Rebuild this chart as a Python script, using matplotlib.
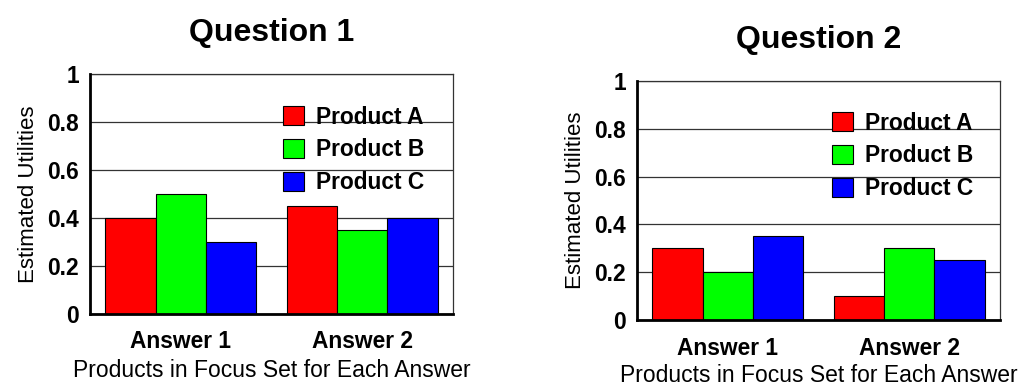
import matplotlib
matplotlib.use('Agg')
import matplotlib.pyplot as plt
import numpy as np

plt.rcParams['font.family'] = ['Liberation Sans', 'DejaVu Sans']

answers = ['Answer 1', 'Answer 2']
products = ['Product A', 'Product B', 'Product C']
colors = ['#ff0000', '#00ff00', '#0000ff']

q1_values = [[0.40, 0.45],   # Product A
             [0.50, 0.35],   # Product B
             [0.30, 0.40]]   # Product C
q2_values = [[0.30, 0.10],
             [0.20, 0.30],
             [0.35, 0.25]]

titles = ['Question 1', 'Question 2']
y_ticks = [0, 0.2, 0.4, 0.6, 0.8, 1]
y_tick_labels = ['0', '0.2', '0.4', '0.6', '0.8', '1']


def draw_panel(ax, values, title, leg_anchor, xpad, xlabelpad):
    x = np.arange(len(answers))
    width = 0.277
    for i, (name, vals) in enumerate(zip(products, values)):
        ax.bar(x + (i - 1) * width, vals, width, color=colors[i], edgecolor='black',
               linewidth=0.8, label=name, zorder=3)
    ax.set_xlim(-0.5, 1.5)
    ax.set_ylim(0, 1)
    ax.set_yticks(y_ticks)
    ax.set_yticklabels(y_tick_labels, fontweight='bold')
    ax.set_xticks(x)
    ax.set_xticklabels(answers, fontweight='bold')
    ax.tick_params(axis='y', length=0, pad=8, labelsize=16.4)
    ax.tick_params(axis='x', length=0, pad=xpad, labelsize=16.4)
    ax.yaxis.grid(True, color='#333333', linewidth=0.9, zorder=0)
    ax.set_axisbelow(True)
    for side in ['left', 'bottom']:
        ax.spines[side].set_linewidth(2)
        ax.spines[side].set_color('black')
        ax.spines[side].set_zorder(5)
    for side in ['top', 'right']:
        ax.spines[side].set_linewidth(0.9)
        ax.spines[side].set_color('#333333')
    ax.set_ylabel('Estimated Utilities', fontsize=16, labelpad=6)
    ax.set_xlabel('Products in Focus Set for Each Answer', fontsize=16.5, labelpad=xlabelpad)
    ax.set_title(title, fontsize=23, fontweight='bold', pad=24)
    leg = ax.legend(loc='upper left', bbox_to_anchor=leg_anchor, frameon=False,
                    borderpad=0, borderaxespad=0, handlelength=0.92, handleheight=0.92,
                    handletextpad=0.53, labelspacing=0.425,
                    prop={'size': 16.4, 'weight': 'bold'})
    leg.set_zorder(6)


fig = plt.figure(figsize=(10.2, 3.89), dpi=100)
ax1 = fig.add_axes([90 / 1020, (389 - 314) / 389, 363 / 1020, 240 / 389])
ax2 = fig.add_axes([637 / 1020, (389 - 320) / 389, 363 / 1020, 239 / 389])

draw_panel(ax1, q1_values, titles[0], (0.532, 0.868), 11.5, 4)
draw_panel(ax2, q2_values, titles[1], (0.537, 0.872), 12.5, 2.5)

fig.savefig('out.png', dpi=100)
